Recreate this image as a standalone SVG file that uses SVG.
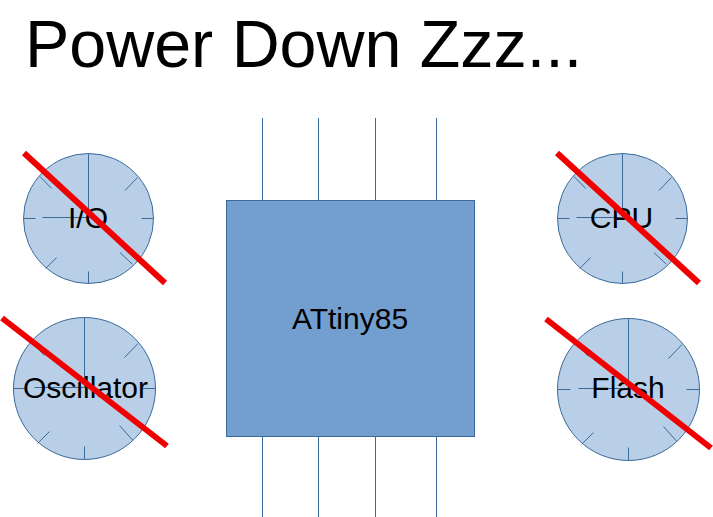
<svg xmlns="http://www.w3.org/2000/svg" width="713" height="517" viewBox="0 0 713 517">
<defs>
<g id="face65" class="ln"><circle class="face" r="65"/><path d="M0-65V-1M0-1H-46M-65 0H-53M65 0H53M0 65V53M49-41L36.500-28M-48.500-42L-36.800-30M-42.800 50L-31.800 39M43.800 45.700L31.500 34"/></g>
<g id="face71" class="ln"><circle class="face" r="71"/><path d="M0-71V-1M0-1H-50M-71 0H-58M71 0H58M0 71V58M53.500-45L40-31M-53-46L-40-33M-47 55L-35 43M48 51.500L35 37"/></g>
</defs>
<style>
.ln{stroke:#3a6a9a;stroke-width:1;fill:none}
.face{fill:#b9cfe8}
.pin{stroke:#3a6a9a;stroke-width:1;fill:none}
.slash{stroke:#f00000;stroke-width:6;fill:none}
text{font-family:"Liberation Sans",Arial,sans-serif;fill:#000}
.lbl{font-size:30px;text-anchor:middle}
</style>
<rect width="713" height="517" fill="#fff"/>
<text x="25" y="67" font-size="66.400">Power Down Zzz...</text>
<g id="connectors">
<path class="pin" d="M262.500 118V200M318.500 118V200M375.500 118V200M436.500 118V200M262.500 436V517M318.500 436V517M375.500 436V517M436.500 436V517"/>
</g>
<g id="attiny85">
<rect x="226.500" y="200.500" width="248" height="236" fill="#729fcf" stroke="#3a6a9a"/>
<text class="lbl" x="350" y="329">ATtiny85</text>
</g>
<g id="io">
<use href="#face65" x="88.500" y="218.500"/>
<text class="lbl" x="88" y="228">I/O</text>
<path class="slash" d="M24 153L165 283"/>
</g>
<g id="oscillator">
<use href="#face71" x="84.500" y="388.500"/>
<text class="lbl" x="85.500" y="398">Oscillator</text>
<path class="slash" d="M2 318L167 446"/>
</g>
<g id="cpu">
<use href="#face65" x="622.500" y="218.500"/>
<text class="lbl" x="621.500" y="228">CPU</text>
<path class="slash" d="M557 153L699 283"/>
</g>
<g id="flash">
<use href="#face71" x="628.500" y="389.500"/>
<text class="lbl" x="628" y="398">Flash</text>
<path class="slash" d="M546 319L711 448"/>
</g>
</svg>
